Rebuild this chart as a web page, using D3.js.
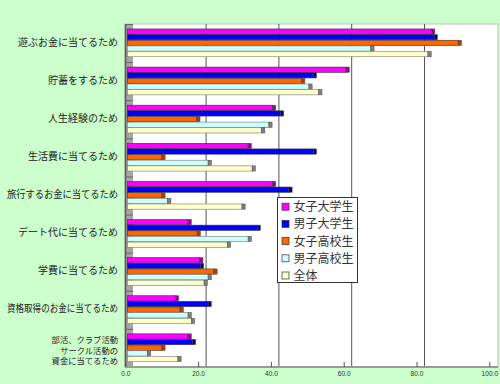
<!DOCTYPE html>
<html>
<head>
<meta charset="utf-8">
<script src="https://cdn.jsdelivr.net/npm/d3@7"></script>
<style>
    body { margin: 0; background: #ccffcc; }
    svg { display: block; }
    .catLabel { font-family: "Noto Sans CJK JP", sans-serif; font-size: 10px; fill: #222; }
    .catLabel.multi { font-size: 8.3px; }
    .legendText { font-family: "Noto Sans CJK JP", sans-serif; font-size: 12px; fill: #333; }
    .tickText { font-family: "Liberation Sans", sans-serif; font-size: 6.6px; fill: #333; }
</style>
</head>
<body>
<div id="chart"></div>
<script>
// Data
var categories = [
    '遊ぶお金に当てるため',
    '貯蓄をするため',
    '人生経験のため',
    '生活費に当てるため',
    '旅行するお金に当てるため',
    'デート代に当てるため',
    '学費に当てるため',
    '資格取得のお金に当てるため',
    '部活、クラブ活動|サークル活動の|資金に当てるため'
];
var seriesNames = ['女子大学生', '男子大学生', '女子高校生', '男子高校生', '全体'];

var femaleUniv = [83.6, 60.1, 39.9, 33.2, 39.9, 16.7, 19.9, 13.2, 16.7];
var maleUniv = [84.3, 51.1, 42.1, 51.1, 44.4, 35.7, 20.1, 22.2, 17.9];
var femaleHigh = [90.9, 47.9, 19.1, 9.5, 9.5, 19.2, 23.8, 14.5, 9.5];
var maleHigh = [66.9, 49.9, 38.9, 22.2, 11.1, 33.2, 22.2, 16.7, 5.5];
var total = [82.6, 52.6, 36.9, 34.3, 31.5, 27.5, 21.1, 17.6, 13.9];

var tickValues = [0, 20, 40, 60, 80, 100];

var seriesValues = [femaleUniv, maleUniv, femaleHigh, maleHigh, total];
var faceColors = ['#ff00ff', '#0000ff', '#ff6600', '#ccffff', '#ffffcc'];
var sideColors = ['#990099', '#000080', '#b33c00', '#808080', '#808080'];

// Svg area
var svgWidth = 500;
var svgHeight = 384;

var svg = d3.select('#chart')
    .append('svg')
    .attr('width', svgWidth)
    .attr('height', svgHeight);

svg.append('rect')
    .attr('width', svgWidth)
    .attr('height', svgHeight)
    .attr('fill', '#ccffcc');

// Plot area
var plot = { left: 125, right: 498, top: 24, bottom: 367 };
var depth = 6;

var xScale = d3.scaleLinear()
    .domain([0, 100])
    .range([127.3, 491.3]);

var yScale = d3.scaleBand()
    .domain(d3.range(categories.length))
    .range([plot.top, plot.bottom])
    .paddingInner(0.26)
    .paddingOuter(0.13);

var subScale = d3.scaleBand()
    .domain(d3.range(seriesNames.length))
    .range([0, yScale.bandwidth()]);

svg.append('rect')
    .attr('x', plot.left)
    .attr('y', plot.top)
    .attr('width', plot.right - plot.left)
    .attr('height', plot.bottom - plot.top)
    .attr('fill', '#ffffff')
    .attr('stroke', '#c0c0c0');

// Back wall gridlines
svg.selectAll('.grid')
    .data(tickValues.slice(1, 5))
    .enter()
    .append('line')
    .attr('x1', (d) => xScale(d) + depth)
    .attr('x2', (d) => xScale(d) + depth)
    .attr('y1', plot.top)
    .attr('y2', plot.bottom)
    .attr('stroke', '#555')
    .attr('stroke-width', 1);

// Left wall
svg.append('rect')
    .attr('x', plot.left)
    .attr('y', plot.top)
    .attr('width', 8)
    .attr('height', plot.bottom - plot.top)
    .attr('fill', '#a6a6a6');

svg.append('line')
    .attr('x1', plot.left + 0.5)
    .attr('x2', plot.left + 0.5)
    .attr('y1', plot.top)
    .attr('y2', plot.bottom)
    .attr('stroke', '#555')
    .attr('stroke-width', 1.5);

svg.selectAll('.wallTick')
    .data(d3.range(categories.length + 1))
    .enter()
    .append('line')
    .attr('x1', plot.left)
    .attr('x2', plot.left + 8)
    .attr('y1', (d) => plot.top + d * yScale.step() + 0.5)
    .attr('y2', (d) => plot.top + d * yScale.step() + 0.5)
    .attr('stroke', '#666');

// Bars
var groups = svg.selectAll('.group')
    .data(categories)
    .enter()
    .append('g')
    .attr('transform', (d, i) => `translate(0, ${yScale(i)})`);

groups.each(function(c, i) {
    var g = d3.select(this);
    seriesValues.forEach(function(vals, s) {
        var y = subScale(s);
        var h = subScale.bandwidth() - 0.4;
        g.append('rect')
            .attr('x', xScale(0))
            .attr('y', y)
            .attr('width', xScale(vals[i]) - xScale(0))
            .attr('height', h)
            .attr('fill', faceColors[s])
            .attr('stroke', s < 3 ? '#333' : '#777')
            .attr('stroke-width', 0.6);
        g.append('rect')
            .attr('x', xScale(vals[i]))
            .attr('y', y)
            .attr('width', 3.2)
            .attr('height', h)
            .attr('fill', sideColors[s])
            .attr('stroke', '#444')
            .attr('stroke-width', 0.5);
    });
});

// Category labels
var labelRight = 118;
var labelMaxWidth = 111;

svg.selectAll('.catLabel')
    .data(categories)
    .enter()
    .append('text')
    .attr('class', (d) => d.indexOf('|') >= 0 ? 'catLabel multi' : 'catLabel')
    .attr('text-anchor', 'end')
    .each(function(d, i) {
        var lines = d.split('|');
        var cy = yScale(i) + yScale.bandwidth() / 2;
        var t = d3.select(this);
        lines.forEach(function(line, k) {
            var offset = lines.length > 1 ? (k - 1) * 10.3 + 2.6 : -1;
            var span = t.append('tspan')
                .attr('x', labelRight)
                .attr('y', cy + offset)
                .attr('dy', '0.36em')
                .text(line);
            // squeeze labels that would run off the left edge
            if (span.node().getComputedTextLength() > labelMaxWidth) {
                span.attr('textLength', labelMaxWidth)
                    .attr('lengthAdjust', 'spacingAndGlyphs');
            }
        });
    });

// Bottom axis
svg.append('line')
    .attr('x1', plot.left)
    .attr('x2', plot.right)
    .attr('y1', plot.bottom)
    .attr('y2', plot.bottom)
    .attr('stroke', '#999')
    .attr('stroke-width', 2);

var tickScale = d3.scaleLinear()
    .domain([0, 100])
    .range([xScale(0) - 2, xScale(100) - 2]);

var bottomAxis = d3.axisBottom(tickScale)
    .tickValues(tickValues)
    .tickSizeInner(-5)
    .tickSizeOuter(0)
    .tickPadding(4)
    .tickFormat(d3.format('.1f'));

var xAxis = svg.append('g')
    .attr('transform', `translate(0, ${plot.bottom})`)
    .call(bottomAxis);

xAxis.select('.domain').remove();
xAxis.selectAll('line').attr('stroke', '#555');
xAxis.selectAll('text')
    .attr('class', 'tickText')
    .attr('font-size', null)
    .attr('font-family', null);
xAxis.attr('font-size', null).attr('font-family', null);

// Legend
var legend = svg.append('g')
    .attr('transform', 'translate(277.5, 197.5)');

legend.append('rect')
    .attr('width', 80)
    .attr('height', 85)
    .attr('fill', '#ffffff')
    .attr('stroke', '#333');

seriesNames.forEach(function(name, s) {
    var cy = 9.2 + s * 17.2;
    legend.append('rect')
        .attr('x', 4.5)
        .attr('y', cy - 3.5)
        .attr('width', 7)
        .attr('height', 7)
        .attr('fill', faceColors[s])
        .attr('stroke', '#333')
        .attr('stroke-width', 0.7);
    legend.append('text')
        .attr('class', 'legendText')
        .attr('x', 16)
        .attr('y', cy)
        .attr('dy', '0.38em')
        .text(name);
});
</script>
</body>
</html>
